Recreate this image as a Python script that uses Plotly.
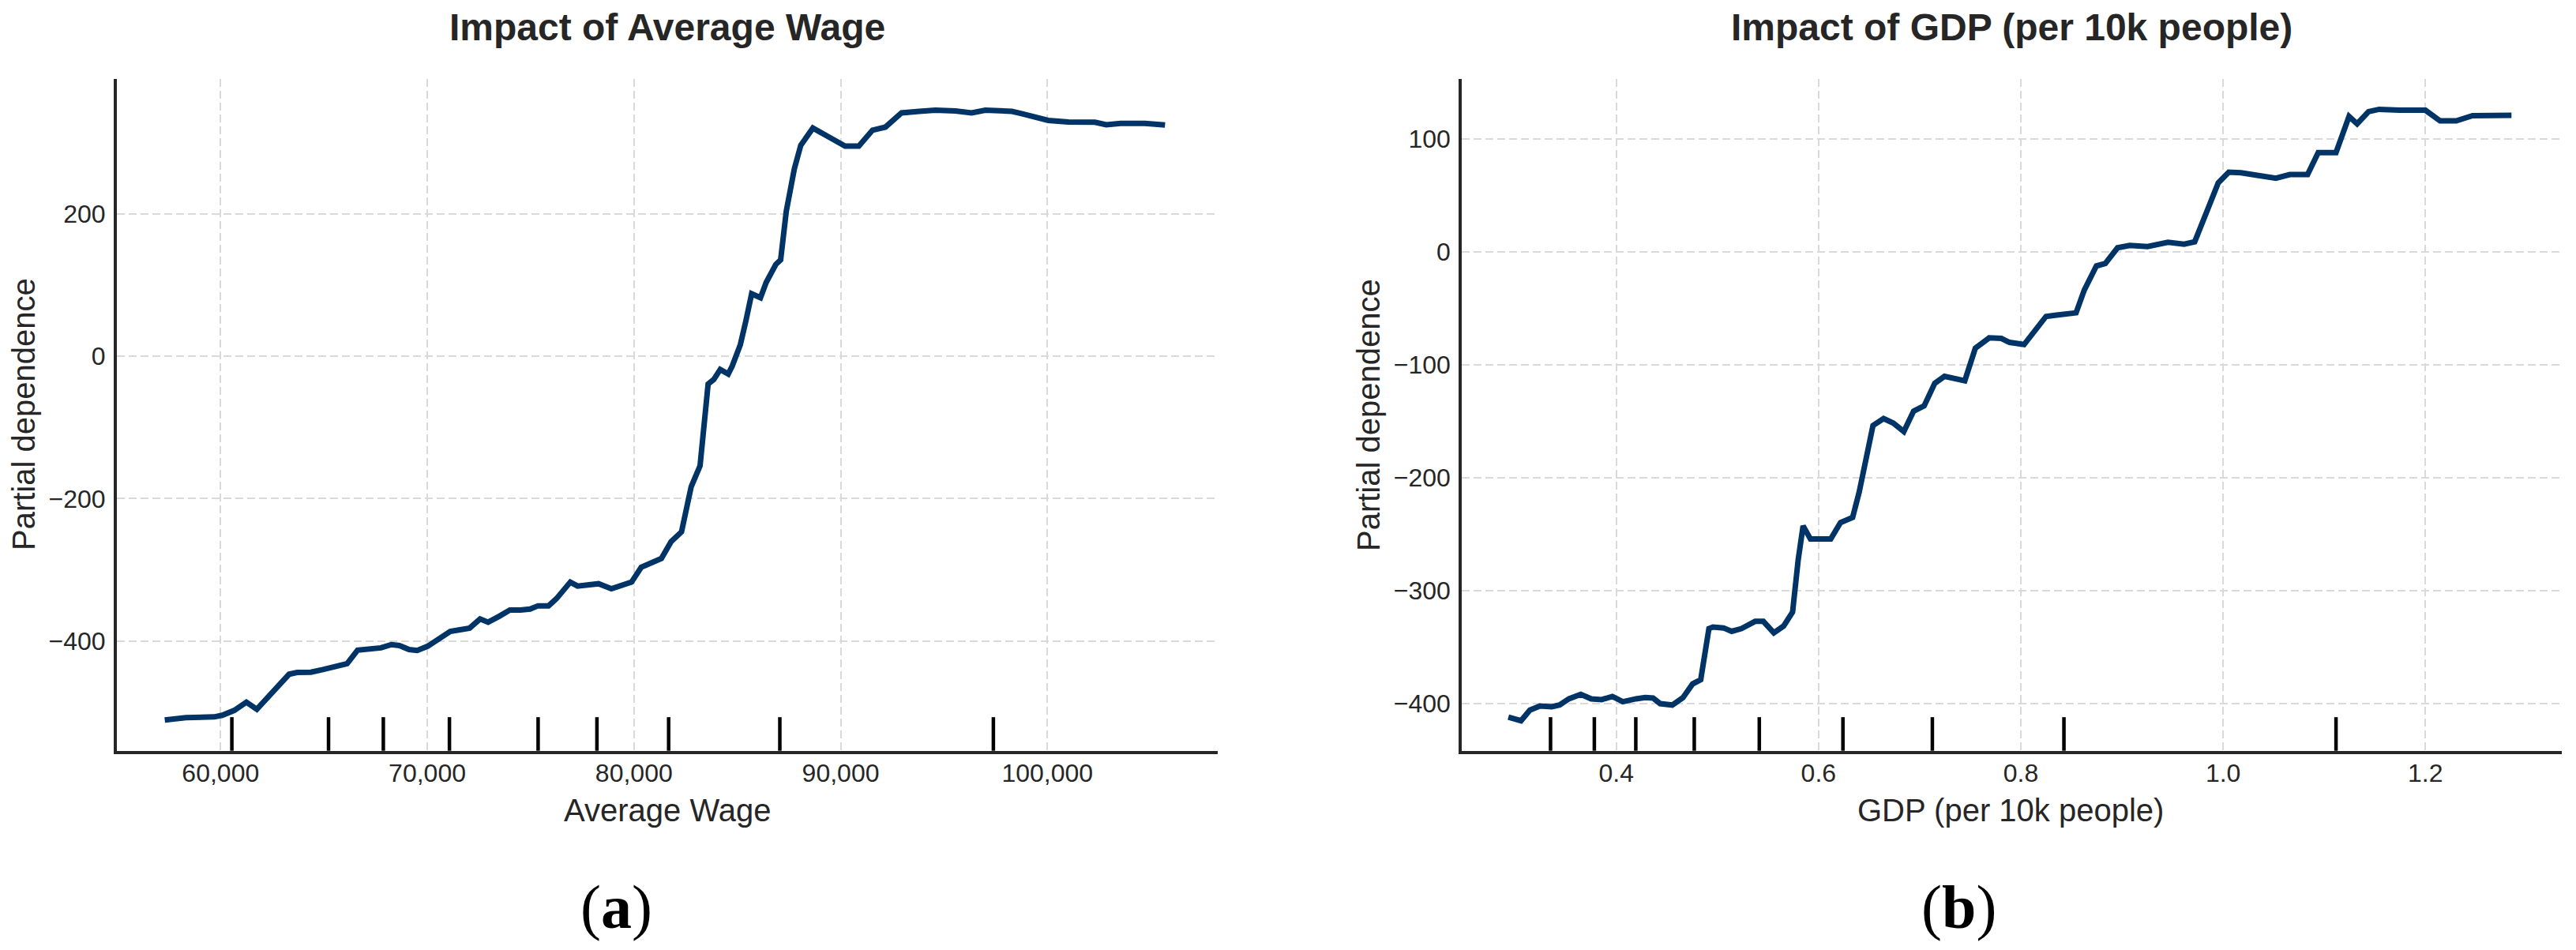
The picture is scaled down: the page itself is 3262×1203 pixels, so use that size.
import plotly.graph_objects as go

# ---------------- data ----------------
wage_x = [57300, 58324, 59688, 60078, 60663, 61248, 61754, 62417, 63314, 63704, 64366, 64951,
          65536, 66121, 66628, 67290, 67758, 68265, 68655, 69123, 69513, 70019, 70604, 71111,
          71579, 72047, 72554, 72943, 73450, 73996, 74503, 74971, 75361, 75867, 76257, 76647,
          76920, 77271, 77817, 78285, 78908, 79376, 79883, 80351, 80858, 81326, 81793, 82300,
          82768, 83197, 83587, 83860, 84172, 84561, 84756, 85146, 85419, 85692, 86121, 86394,
          86862, 87096, 87368, 87758, 88070, 88655, 89513, 90214, 90877, 91540, 92164, 92943,
          93801, 94581, 95556, 96335, 96998, 97700, 98285, 98791, 99454, 100039, 101014, 102300,
          102846, 103548, 104717, 105692]
wage_pd = [-511, -507.6, -506.7, -504.4, -497.5, -485.9, -496, -474.4, -446.7, -444.3, -443.9, -440.2,
           -436.5, -431.9, -412.9, -412, -409.7, -405.1, -406.5, -412, -413.4, -407.4, -396.8, -386.6,
           -384.3, -382, -369.1, -373.7, -365.8, -356.6, -356.6, -355.2, -350.6, -350.6, -340.4, -326.6,
           -317.3, -322.9, -321, -319.6, -326.6, -322.9, -317.3, -296.5, -289.6, -284.1, -260.5, -246.7,
           -183.4, -154, -39.1, -32.8, -18.7, -25.1, -13.6, 16.2, 50.2, 87.7, 82.1, 103.4,
           128.9, 135.3, 203.4, 263, 296.2, 320.4, 306.4, 294.9, 294.9, 317.4, 321.7, 341.7,
           343.8, 345.5, 344.3, 341.7, 345.5, 344.3, 343.8, 340.4, 334.5, 331.1, 328.9, 328.5,
           325.1, 326.8, 326.8, 324.7]
wage_deciles = [60546, 65223, 67874, 71072, 75362, 78208, 81677, 87056, 97387]

gdp_x = [0.2933, 0.3058, 0.3146, 0.3245, 0.3362, 0.3440, 0.3532, 0.3649, 0.3753, 0.3856, 0.3961,
         0.4065, 0.4195, 0.4286, 0.4364, 0.4434, 0.4554, 0.4659, 0.4755, 0.4835, 0.4916, 0.4956,
         0.5060, 0.5141, 0.5237, 0.5373, 0.5454, 0.5558, 0.5655, 0.5743, 0.5799, 0.5847, 0.5920,
         0.6120, 0.6217, 0.6337, 0.6402, 0.6442, 0.6538, 0.6643, 0.6739, 0.6843, 0.6940, 0.7044,
         0.7149, 0.7245, 0.7325, 0.7446, 0.7550, 0.7687, 0.7807, 0.7888, 0.8032, 0.8153, 0.8249,
         0.8353, 0.8490, 0.8546, 0.8627, 0.8747, 0.8835, 0.8956, 0.9076, 0.9253, 0.9454, 0.9614,
         0.9719, 0.9815, 0.9952, 1.0056, 1.0177, 1.0337, 1.0522, 1.0659, 1.0835, 1.0940, 1.1116,
         1.1245, 1.1325, 1.1438, 1.1542, 1.1743, 1.2000, 1.2145, 1.2305, 1.2466, 1.2851]
gdp_pd = [-412.3, -415.4, -406, -402.3, -403, -401.4, -396, -392, -396, -396.7, -393.9,
          -398.6, -396, -394.8, -395.3, -400.3, -401.5, -395, -382.8, -379, -333.8, -332.4,
          -333.2, -336.2, -333.8, -327.4, -327.4, -337.6, -331.5, -319.2, -272.6, -242.9, -254.5,
          -254.5, -239.9, -235.3, -212.8, -196.8, -153.9, -147.8, -151.8, -159.3, -141.1, -136.5,
          -116.5, -110.4, -111.6, -114.3, -85.4, -76.3, -76.8, -80.3, -82.2, -68.3, -57.3,
          -56.2, -54.9, -54.1, -34, -12.6, -10.4, 3.5, 5.6, 4.6, 8.3, 6.7,
          8.8, 30.3, 61, 70.4, 69.9, 67.7, 65.1, 68.3, 68.3, 87.8, 87.8,
          119.9, 113.3, 124, 126.1, 125.3, 125.3, 115.9, 115.9, 120.5, 120.8]
gdp_deciles = [0.3350, 0.3783, 0.4193, 0.4771, 0.5414, 0.6241, 0.7125, 0.8426, 1.1116]

titles = ["Impact of Average Wage", "Impact of GDP (per 10k people)"]
x_titles = ["Average Wage", "GDP (per 10k people)"]
y_title = "Partial dependence"
captions = ["(<b>a</b>)", "(<b>b</b>)"]

# ---------------- layout helpers ----------------
PAGE_W, PAGE_H = 3262, 1203
OFF = 8  # default page body margin
W, H = PAGE_W - 2 * OFF, PAGE_H - 2 * OFF
def px(x):
    return (x - OFF) / W
def py(y):
    return 1 - (y - OFF) / H

LINE_COLOR = "#003366"
TEXT = "#262626"
GRID = "#d9d9d9"
FONT = "Liberation Sans, Arial, sans-serif"

fig = go.Figure()
fig.add_trace(go.Scatter(x=wage_x, y=wage_pd, mode="lines", xaxis="x", yaxis="y",
                         line=dict(color=LINE_COLOR, width=7), showlegend=False))
fig.add_trace(go.Scatter(x=gdp_x, y=gdp_pd, mode="lines", xaxis="x2", yaxis="y2",
                         line=dict(color=LINE_COLOR, width=7), showlegend=False))

common = dict(showline=True, linecolor=TEXT, linewidth=3.5, mirror=False,
              showgrid=True, gridcolor=GRID, gridwidth=2, griddash="10px,5px",
              zeroline=False, ticks="", tickfont=dict(family=FONT, size=32, color=TEXT))

y_dom = [py(950.7), py(100)]
fig.update_layout(
    width=W, height=H, margin=dict(l=0, r=0, t=0, b=0),
    paper_bgcolor="white", plot_bgcolor="white",
    xaxis=dict(domain=[px(147.7), px(1541.7)], range=[54972, 108229], anchor="y",
               tick0=0, dtick=10000, tickformat=",d", ticklabelstandoff=-3, **common),
    yaxis=dict(domain=y_dom, range=[-554.2, 389.3], anchor="x",
               tick0=0, dtick=200, ticklabelstandoff=4, **common),
    xaxis2=dict(domain=[px(1851), px(3243.7)], range=[0.2472, 1.3346], anchor="y2",
                tick0=0, dtick=0.2, tickformat=".1f", ticklabelstandoff=-3, **common),
    yaxis2=dict(domain=y_dom, range=[-442, 153], anchor="x2",
                tick0=0, dtick=100, ticklabelstandoff=4, **common),
)

# decile rug marks
for xv in wage_deciles:
    fig.add_shape(type="line", xref="x", yref="y domain", x0=xv, x1=xv, y0=0, y1=0.05,
                  line=dict(color="black", width=4.5))
for xv in gdp_deciles:
    fig.add_shape(type="line", xref="x2", yref="y2 domain", x0=xv, x1=xv, y0=0, y1=0.05,
                  line=dict(color="black", width=4.5))

# titles
for t, cx in zip(titles, [844.7, 2547]):
    fig.add_annotation(text=t, xref="paper", yref="paper", x=px(cx), y=py(34),
                       xanchor="center", yanchor="middle", showarrow=False,
                       font=dict(family=FONT, size=48, color=TEXT, weight="bold"))
# x axis titles
for t, cx in zip(x_titles, [845, 2546]):
    fig.add_annotation(text=t, xref="paper", yref="paper", x=px(cx), y=py(1026),
                       xanchor="center", yanchor="middle", showarrow=False,
                       font=dict(family=FONT, size=40, color=TEXT))
# y axis titles
for cx in [30, 1733]:
    fig.add_annotation(text=y_title, xref="paper", yref="paper", x=px(cx), y=py(525),
                       xanchor="center", yanchor="middle", showarrow=False, textangle=-90,
                       font=dict(family=FONT, size=40, color=TEXT))
# captions
for t, cx in zip(captions, [780, 2480]):
    fig.add_annotation(text=t, xref="paper", yref="paper", x=px(cx), y=py(1148),
                       xanchor="center", yanchor="middle", showarrow=False,
                       font=dict(family="Liberation Serif, Times New Roman, serif", size=78, color="black"))

fig.write_html("out.html")
